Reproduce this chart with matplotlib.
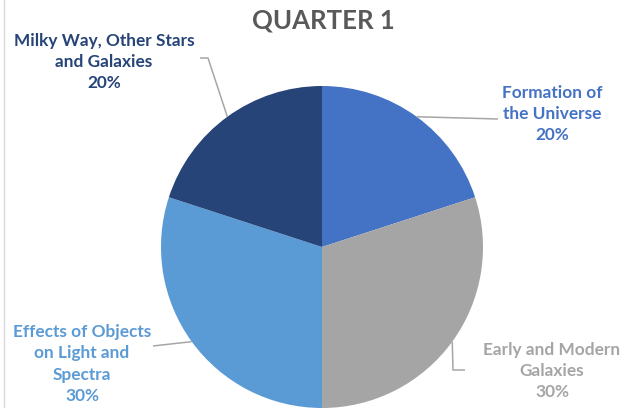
"""Quarter 1 topic distribution pie chart."""

import numpy as np
import matplotlib.pyplot as plt

topics = [
    "Formation of\nthe Universe",
    "Early and Modern\nGalaxies",
    "Effects of Objects\non Light and\nSpectra",
    "Milky Way, Other Stars\nand Galaxies",
]
shares = [20, 30, 30, 20]
colors = ["#4472C4", "#A5A5A5", "#5B9BD5", "#264478"]

# label centres (pixel space) and leader-line elbows
label_pos = [(552, 114), (552, 371), (82, 364), (104, 62)]
elbows = [
    [(498, 119)],
    [(453, 370), (465, 370)],
    [(153, 346)],
    [(208, 58), (200, 58)],
]

W, H = 637, 408
fig = plt.figure(figsize=(W / 100, H / 100), dpi=100)
ax = fig.add_axes([0, 0, 1, 1])

cx, cy, r = 322, 247, 161
# y axis runs downward, so a counter-clockwise sweep from -90 reads clockwise from 12 o'clock
wedges, _ = ax.pie(
    shares,
    colors=colors,
    startangle=-90,
    counterclock=True,
    center=(cx, cy),
    radius=r,
    wedgeprops={"linewidth": 0},
    frame=True,
)
ax.set_xlim(0, W)
ax.set_ylim(H, 0)
ax.set_aspect("equal")
ax.axis("off")

font = ["Lato", "DejaVu Sans"]
for w, lbl, val, col, pos, elb in zip(wedges, topics, shares, colors, label_pos, elbows):
    mid = np.deg2rad((w.theta1 + w.theta2) / 2)
    ex, ey = cx + r * np.cos(mid), cy + r * np.sin(mid)
    xs = [ex] + [p[0] for p in elb]
    ys = [ey] + [p[1] for p in elb]
    ax.plot(xs, ys, color="#A6A6A6", lw=1.1, solid_capstyle="butt")
    ax.text(pos[0], pos[1], f"{lbl}\n{val}%", ha="center", va="center",
            color=col, fontsize=12.4, fontweight="bold", family=font,
            linespacing=1.42)

ax.text(323, 20, "QUARTER 1", ha="center", va="center", fontsize=18.5,
        fontweight="bold", color="#595959", family=font)
ax.plot([4, 4], [0, H], color="#D9D9D9", lw=1)

fig.savefig("out.png", dpi=100, facecolor="white")
